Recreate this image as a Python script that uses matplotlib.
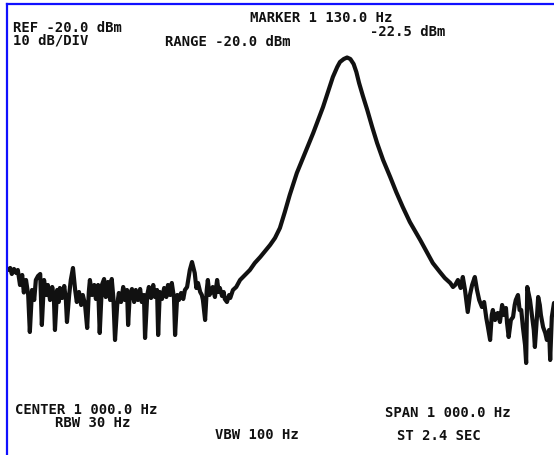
import matplotlib
matplotlib.use('Agg')
import matplotlib.pyplot as plt
from matplotlib.lines import Line2D

# spectrum analyzer trace, frequency in Hz and level in dBm
# noise floor left of the carrier
noise_left_hz = [500, 504, 507, 511, 515, 518, 522, 526, 529, 533,
                 537, 540, 544, 548, 551, 555, 559, 562, 566, 570,
                 573, 577, 581, 584, 586, 590, 593, 595, 599, 603,
                 606, 608, 612, 615, 619, 623, 626, 630, 634, 637,
                 641, 645, 648, 650, 654, 658, 661, 665, 668, 672,
                 676, 679, 683, 687, 690, 693, 696, 700, 703, 707,
                 711, 714, 718, 720, 723, 727, 731, 734, 738, 742,
                 745, 749, 751, 755, 758, 762, 766, 769, 773, 775,
                 778, 782, 786, 790, 793, 797, 800, 804, 806, 810,
                 813, 817, 821, 824, 828, 833, 837, 842, 845, 848,
                 852, 855, 857, 861, 864, 866, 869, 872, 875, 879,
                 883, 886, 888, 892, 895, 897, 901, 905, 907, 912,
                 918, 925]
noise_left_dbm = [-65.0, -64.6, -65.8, -64.8, -65.6, -65.0, -68.0, -66.0, -69.5, -67.0,
                  -70.0, -77.4, -69.0, -71.0, -67.0, -66.2, -65.8, -76.0, -67.0, -70.0,
                  -68.0, -71.0, -68.4, -70.4, -77.0, -69.0, -71.4, -68.6, -70.6, -68.2,
                  -71.0, -75.4, -70.0, -67.0, -64.6, -69.0, -71.4, -69.4, -72.0, -70.0,
                  -71.8, -76.6, -69.4, -67.0, -70.0, -68.0, -70.8, -68.0, -77.6, -68.0,
                  -66.8, -70.4, -67.4, -71.0, -66.8, -70.6, -79.0, -72.0, -69.6, -71.4,
                  -68.4, -71.0, -69.0, -76.0, -70.0, -68.8, -71.4, -69.0, -71.0, -68.8,
                  -71.4, -70.0, -78.6, -70.0, -68.4, -70.6, -68.0, -70.4, -69.0, -78.0,
                  -69.4, -70.8, -68.6, -70.4, -68.0, -70.0, -67.6, -70.6, -78.0, -70.0,
                  -71.0, -69.6, -70.8, -69.0, -68.4, -65.0, -63.4, -65.6, -68.6, -67.6,
                  -69.4, -70.0, -71.0, -75.0, -69.0, -67.0, -70.0, -69.4, -68.4, -70.4,
                  -67.0, -69.4, -68.6, -70.2, -69.4, -70.8, -71.4, -70.0, -70.6, -69.0,
                  -68.4, -67.0]

# carrier response
carrier_hz = [934, 943, 952, 962, 971, 980, 989, 998, 1007, 1016,
              1029, 1044, 1059, 1068, 1077, 1086, 1095, 1103, 1108, 1115,
              1121, 1127, 1133, 1138, 1143, 1150, 1158, 1167, 1176, 1187,
              1200, 1211, 1223, 1236, 1255, 1267, 1278, 1291, 1300]
carrier_dbm = [-66.0, -65.0, -63.6, -62.4, -61.2, -60.0, -58.6, -56.6, -53.4, -50.0,
               -45.6, -41.6, -37.6, -35.0, -32.4, -29.4, -26.4, -24.4, -23.4, -22.8,
               -22.5, -22.8, -23.8, -25.4, -27.6, -30.2, -33.0, -36.4, -39.6, -43.0,
               -46.4, -49.4, -52.4, -55.4, -59.0, -61.4, -63.6, -65.4, -66.6]

# noise floor right of the carrier
noise_right_hz = [1310, 1315, 1319, 1324, 1329, 1333, 1337, 1342, 1346, 1350,
                  1355, 1359, 1363, 1368, 1372, 1376, 1379, 1383, 1386, 1388,
                  1392, 1394, 1397, 1401, 1405, 1408, 1412, 1414, 1417, 1421,
                  1425, 1428, 1430, 1434, 1437, 1440, 1443, 1447, 1449, 1451,
                  1454, 1456, 1460, 1463, 1465, 1469, 1471, 1474, 1476, 1480,
                  1484, 1487, 1491, 1493, 1496, 1500]
noise_right_dbm = [-67.6, -68.4, -68.0, -67.0, -68.6, -66.4, -69.0, -73.4, -70.0, -68.0,
                   -66.4, -69.0, -71.0, -72.4, -71.4, -74.6, -76.4, -79.0, -74.0, -73.0,
                   -75.0, -74.0, -73.6, -75.4, -72.0, -74.0, -72.6, -75.6, -78.4, -75.0,
                   -74.4, -72.0, -71.0, -70.0, -73.0, -73.0, -76.4, -80.0, -83.6, -68.4,
                   -70.0, -71.0, -74.4, -77.0, -80.4, -74.0, -70.4, -72.0, -74.0, -76.4,
                   -77.6, -79.0, -77.0, -83.0, -74.4, -71.6]

freq_hz = noise_left_hz + carrier_hz + noise_right_hz
level_dbm = noise_left_dbm + carrier_dbm + noise_right_dbm

# screen annotations: (text, x px, y px)
labels = [
    ('REF -20.0 dBm', 13, 28),
    ('10 dB/DIV', 13, 41),
    ('RANGE -20.0 dBm', 165, 42),
    ('MARKER 1 130.0 Hz', 250, 18),
    ('-22.5 dBm', 370, 32),
    ('CENTER 1 000.0 Hz', 15, 410),
    ('RBW 30 Hz', 55, 423),
    ('VBW 100 Hz', 215, 435),
    ('SPAN 1 000.0 Hz', 385, 413),
    ('ST 2.4 SEC', 397, 436),
]

W, H = 554, 455
fig = plt.figure(figsize=(W / 100, H / 100), dpi=100)
fig.patch.set_facecolor('white')

ax = fig.add_axes([8 / W, 0, 546 / W, 1])
ax.plot(freq_hz, level_dbm, color='#111111', linewidth=3.0,
        solid_joinstyle='round', solid_capstyle='round')
ax.set_xlim(500, 1500)
ax.set_ylim(-102, -11)
ax.axis('off')

# blue frame on left and top
fig.add_artist(Line2D([7 / W, 7 / W], [0, 1 - 4 / H], color='#1010ff', linewidth=1.6))
fig.add_artist(Line2D([7 / W, 1], [1 - 4 / H, 1 - 4 / H], color='#1010ff', linewidth=1.6))

for text, x, y in labels:
    fig.text(x / W, 1 - y / H, text, ha='left', va='center',
             family='DejaVu Sans Mono', weight='bold', fontsize=10, color='#111111')

fig.savefig('out.png', dpi=100)
